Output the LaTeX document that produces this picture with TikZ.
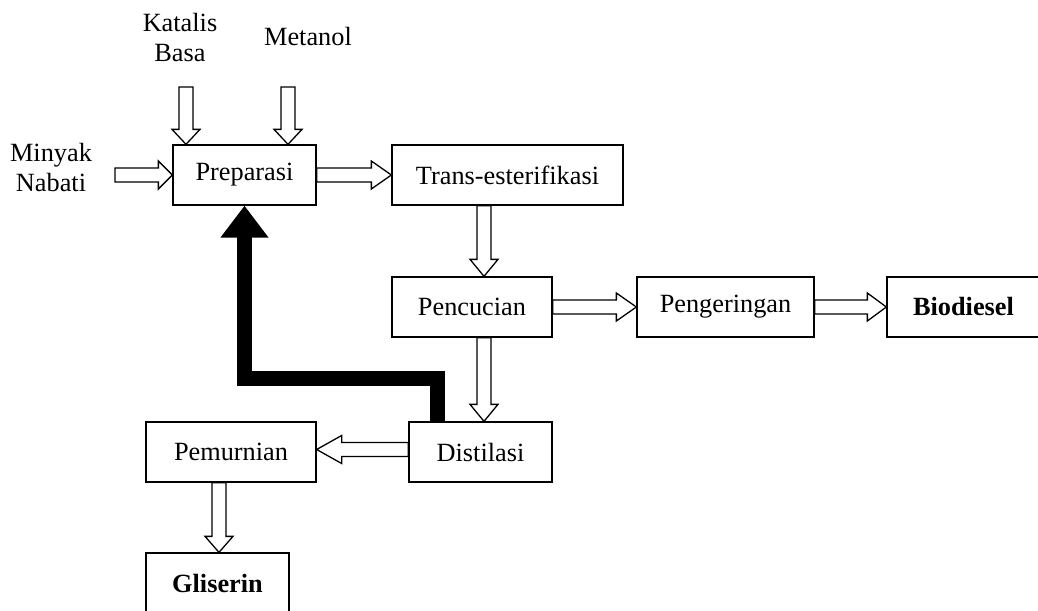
\documentclass[tikz,border=0pt]{standalone}
\usepackage{fontspec}
\setmainfont{Liberation Serif}
\usetikzlibrary{arrows.meta}
\usetikzlibrary{calc}
\usetikzlibrary{positioning}

\tikzset{
  flow/.style = {line width=1.3pt, fill=white, line join=miter},
  feedback/.style = {line width=15pt, -{Triangle[length=32pt, width=46pt]}},
  stage/.style = {rectangle, draw, line width=1.3pt, inner sep=0pt, minimum height=60pt},
}

% hollow block arrows: [head length]{from}{to}
\newcommand{\flowright}[3][18pt]{%
  \draw[flow] let \p1=(#2), \p2=(#3) in
    (\x1,\y1+7pt) -- (\x2-#1,\y1+7pt) -- (\x2-#1,\y1+14pt) -- (\x2,\y1)
    -- (\x2-#1,\y1-14pt) -- (\x2-#1,\y1-7pt) -- (\x1,\y1-7pt) -- cycle;}
\newcommand{\flowleft}[3][18pt]{%
  \draw[flow] let \p1=(#2), \p2=(#3) in
    (\x1,\y1+7pt) -- (\x2+#1,\y1+7pt) -- (\x2+#1,\y1+14pt) -- (\x2,\y1)
    -- (\x2+#1,\y1-14pt) -- (\x2+#1,\y1-7pt) -- (\x1,\y1-7pt) -- cycle;}
\newcommand{\flowdown}[3][18pt]{%
  \draw[flow] let \p1=(#2), \p2=(#3) in
    (\x1+7pt,\y1) -- (\x1+7pt,\y2+#1) -- (\x1+14pt,\y2+#1) -- (\x1,\y2)
    -- (\x1-14pt,\y2+#1) -- (\x1-7pt,\y2+#1) -- (\x1-7pt,\y1) -- cycle;}

\begin{document}
\begin{tikzpicture}[x=1pt, y=-1pt, font=\fontsize{26.3}{30}\selectfont]
		\useasboundingbox (0,0) rectangle (1038,610);
		\begin{scope}[every node/.style = {stage}]
			\node[minimum width=143pt] (prep) at (244.5,175) {Preparasi};
			\node[minimum width=231pt] (trans) at (507.5,175) {Trans-esterifikasi};
			\node[minimum width=160pt] (wash) at (472,307) {Pencucian};
			\node[minimum width=177pt] (dry) at (725.5,307) {Pengeringan};
			\node[minimum width=153pt, font=\fontsize{26.3}{30}\selectfont\bfseries] (bio) at (963.5,307) {Biodiesel};
			\node[minimum width=143pt] (dist) at (480.5,452) {Distilasi};
			\node[minimum width=170pt] (purif) at (231,452) {Pemurnian};
			\node[minimum width=143pt, font=\fontsize{26.3}{30}\selectfont\bfseries] (gly) at (217.5,583) {Gliserin};
		\end{scope}
		\node[align=center] (cat) at (180,38) {Katalis\\Basa};
		\node (meth) at (308,37) {Metanol};
		\node[align=center] (oil) at (51,168) {Minyak\\Nabati};
		\coordinate (catin) at (186,87);
		\coordinate (methin) at (288,87);
		\coordinate (oilin) at (115,175);

		\flowright[14pt]{oilin}{prep.west}
		\flowdown[15pt]{catin}{prep.north}
		\flowdown[15pt]{methin}{prep.north}
		\flowright[20pt]{prep.east}{trans.west}
		\flowdown[17pt]{[xshift=-23.5pt]trans.south}{wash.north}
		\flowright[20pt]{wash.east}{dry.west}
		\flowright[19pt]{dry.east}{bio.west}
		\flowdown[17pt]{[xshift=12pt]wash.south}{dist.north}
		\flowleft[25pt]{[yshift=2.5pt]dist.west}{purif.east}
		\flowdown[16pt]{[xshift=-12pt]purif.south}{gly.north}

		\draw[feedback] ([xshift=29.5pt]dist.north west) -- ++(0,-43) -| (prep.south);
	\end{tikzpicture}
\end{document}
